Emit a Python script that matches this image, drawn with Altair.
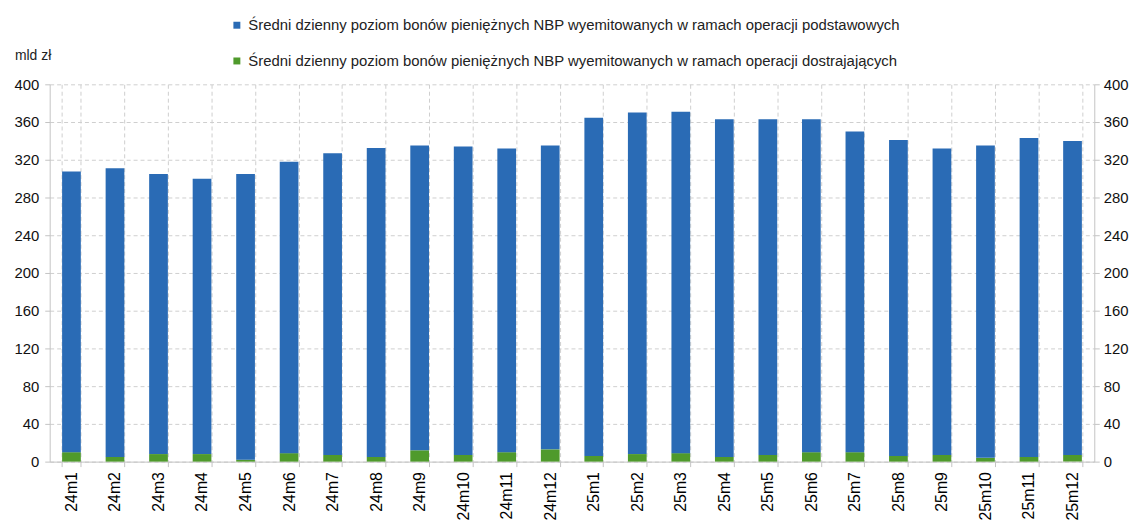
import altair as alt
import pandas as pd

months = ["24m1", "24m2", "24m3", "24m4", "24m5", "24m6", "24m7", "24m8", "24m9", "24m10", "24m11", "24m12",
          "25m1", "25m2", "25m3", "25m4", "25m5", "25m6", "25m7", "25m8", "25m9", "25m10", "25m11", "25m12"]
totals = [307.5, 311, 305, 300, 305, 318, 327, 332.5, 335, 334, 332, 335,
          364.5, 370, 371, 363, 363, 363, 350, 341, 332, 335, 343, 340]
fine_tuning = [10, 5, 8, 8, 2, 9, 7, 5, 12, 7, 10, 13,
               6, 8, 9, 5, 7, 10, 10, 6, 7, 4, 5, 7]
series_main = "Średni dzienny poziom bonów pieniężnych NBP wyemitowanych w ramach operacji podstawowych"
series_fine = "Średni dzienny poziom bonów pieniężnych NBP wyemitowanych w ramach operacji dostrajających"
y_ticks = [0, 40, 80, 120, 160, 200, 240, 280, 320, 360, 400]

rows = []
for m, t, f in zip(months, totals, fine_tuning):
    rows.append({"month": m, "series": series_fine, "value": f, "ord": 0})
    rows.append({"month": m, "series": series_main, "value": t - f, "ord": 1})
df = pd.DataFrame(rows)

W, H = 1052, 380
FONT = "Liberation Sans"
GRID = "#cfcfcf"
AXC = "#c4c4c4"

x_enc = alt.X("month:N", sort=months, title=None,
              scale=alt.Scale(paddingInner=0.57, paddingOuter=0.285),
              axis=alt.Axis(labelAngle=270, labelFontSize=16, labelColor="#000", labelFont=FONT,
                            tickBand="extent", labelPadding=5,
                            grid=True, gridDash=[4, 3], gridColor=GRID,
                            domainColor=AXC, tickColor=AXC, tickSize=5))

bars = alt.Chart(df).mark_bar().encode(
    x=x_enc,
    y=alt.Y("value:Q", stack="zero", title=None,
            scale=alt.Scale(domain=[0, 400], nice=False),
            axis=alt.Axis(values=y_ticks, labelFontSize=15, labelColor="#111", labelFont=FONT,
                          grid=True, gridDash=[4, 3], gridColor=GRID,
                          domainColor=AXC, tickColor=AXC, tickSize=5, labelPadding=6)),
    color=alt.Color("series:N", sort=[series_main, series_fine],
                    scale=alt.Scale(domain=[series_main, series_fine], range=["#2A6BB5", "#4F9A2C"]),
                    legend=alt.Legend(title=None, orient="none", legendX=181, legendY=-67,
                                      direction="vertical", symbolType="square", symbolSize=49,
                                      labelFontSize=15, labelFont=FONT, labelColor="#222",
                                      labelOffset=4, rowPadding=20, symbolStrokeWidth=0,
                                      labelLimit=900)),
    order=alt.Order("ord:Q"),
)

right_axis = alt.Chart(pd.DataFrame({"v": [0]})).mark_point(opacity=0).encode(
    y=alt.Y("v:Q", title=None, scale=alt.Scale(domain=[0, 400], nice=False),
            axis=alt.Axis(orient="right", values=y_ticks, labelFontSize=15, labelColor="#111",
                          labelFont=FONT, grid=False, domainColor=AXC, tickColor=AXC,
                          tickSize=5, labelPadding=4)),
)

unit_label = alt.Chart(pd.DataFrame({"t": ["mld zł"]})).mark_text(
    font=FONT, fontSize=14, color="#222", align="left", baseline="middle").encode(
    text="t:N", x=alt.value(-35), y=alt.value(-28))

chart = alt.layer(bars, right_axis, unit_label).resolve_scale(y="independent").properties(
    width=W, height=H,
    autosize=alt.AutoSizeParams(type="none"),
    padding={"left": 42, "top": 75, "right": 39, "bottom": 64},
).configure_view(stroke=None)

chart.save("out.html", embed_options={"renderer": "svg", "actions": False})
